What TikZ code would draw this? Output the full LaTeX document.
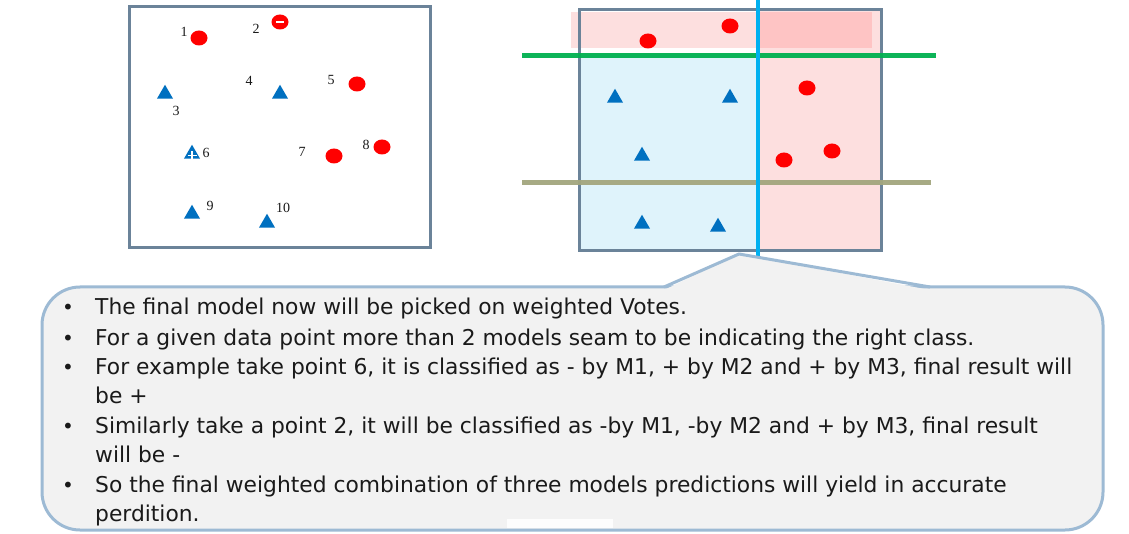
\documentclass[tikz,border=0pt]{standalone}
\usepackage{fontspec}
\setmainfont{DejaVu Sans}
\newfontfamily\numfont{Liberation Serif}
\usetikzlibrary{shapes.geometric}
\definecolor{boxgray}{HTML}{6B8399}
\definecolor{ptred}{HTML}{FF0000}
\definecolor{ptblue}{HTML}{0070C0}
\definecolor{regblue}{HTML}{DFF3FB}
\definecolor{regpink}{HTML}{FDDFDF}
\definecolor{bandpink}{HTML}{FEC4C4}
\definecolor{lgreen}{HTML}{00B050}
\definecolor{lolive}{HTML}{A3A67E}
\definecolor{lblue}{HTML}{00B0F0}
\definecolor{callfill}{HTML}{F2F2F2}
\definecolor{callline}{HTML}{9DBAD4}
\definecolor{txt}{HTML}{1A1A1A}
\begin{document}
\begin{tikzpicture}[x=1pt,y=-1pt,
  redpt/.style={ellipse, fill=ptred, inner sep=0pt, minimum width=17pt, minimum height=15pt},
  bluept/.style={regular polygon, regular polygon sides=3, fill=ptblue, inner sep=0pt, minimum size=18.5pt},
  numlbl/.style={font=\numfont\fontsize{14}{14}\selectfont, inner sep=0pt, text=txt},
  txtline/.style={font=\fontsize{21.8}{26}\selectfont, anchor=base west, inner sep=0pt, text=txt},
  bul/.style={font=\fontsize{20}{20}\selectfont, anchor=base, inner sep=0pt, text=txt},
  frame/.style={draw=boxgray, line width=3pt}
]
\useasboundingbox (0,0) rectangle (1129,534);
\fill[white] (0,0) rectangle (1129,534);

% ---------- left panel ----------
\draw[frame] (129,7) rectangle (430,248);
\node[redpt] (p1) at (199,38) {};
\node[redpt] (p2) at (280,22) {};
\draw[white, line width=2pt] ([xshift=-4pt]p2.center) -- ([xshift=4pt]p2.center);
\node[bluept] (p3) at (165,94) {};
\node[bluept] (p4) at (280,94) {};
\node[redpt] (p5) at (357,84) {};
\node[bluept] (p6) at (192,154) {};
\draw[white, line width=1.8pt] ([xshift=-4.5pt,yshift=-1.5pt]p6.center) -- ([xshift=4.5pt,yshift=-1.5pt]p6.center);
\draw[white, line width=1.8pt] ([yshift=2.5pt]p6.center) -- ([yshift=-6pt]p6.center);
\node[redpt] (p7) at (334,156) {};
\node[redpt] (p8) at (382,147) {};
\node[bluept] (p9) at (192,214) {};
\node[bluept] (p10) at (267,223) {};
\node[numlbl] (l1) at (184,32) {1};
\node[numlbl] (l2) at (256,29) {2};
\node[numlbl] (l3) at (176,111) {3};
\node[numlbl] (l4) at (249,81) {4};
\node[numlbl] (l5) at (331,80) {5};
\node[numlbl] (l6) at (206,153) {6};
\node[numlbl] (l7) at (302,152) {7};
\node[numlbl] (l8) at (366,145) {8};
\node[numlbl] (l9) at (210,206) {9};
\node[numlbl] (l10) at (283,208) {10};

% ---------- right panel ----------
\fill[regblue] (579,54) rectangle (758,251);
\fill[regpink] (758,10) rectangle (881,251);
\fill[regpink] (571,12) rectangle (758,48);
\fill[bandpink] (758,12) rectangle (872,48);
\draw[frame] (579,10) rectangle (881,251);
\draw[lgreen, line width=5pt, opacity=0.95] (522,56) -- (936,56);
\draw[lolive, line width=5pt, opacity=0.95] (522,183) -- (931,183);
\draw[lblue, line width=4pt] (758,0) -- (758,256);
\node[redpt] (q1) at (648,41) {};
\node[redpt] (q2) at (730,26) {};
\node[redpt] (q3) at (807,88) {};
\node[redpt] (q4) at (784,160) {};
\node[redpt] (q5) at (832,151) {};
\node[bluept] (r1) at (615,98) {};
\node[bluept] (r2) at (730,98) {};
\node[bluept] (r3) at (642,156) {};
\node[bluept] (r4) at (642,224) {};
\node[bluept] (r5) at (718,227) {};

% ---------- callout ----------
\node[draw=callline, fill=callfill, line width=3pt, rounded corners=38pt,
      minimum width=1061pt, minimum height=243pt, inner sep=0pt] (call) at (572.5,408.5) {};
\coordinate (tip) at (739,254);
\coordinate (ba) at (664,287);
\coordinate (bb) at (930,287);
\fill[callfill] ([yshift=-3pt]ba) -- (tip) -- ([yshift=-3pt]bb) -- cycle;
\draw[callline, line width=3pt, line join=round] (ba) -- (tip) -- (bb);
\fill[white, opacity=0.9] (507,519) rectangle (613,528);

\foreach \yy in {315,345,374,433,492} {\node[bul] at (68,\yy) {•};}
\node[txtline] (t1) at (95,315) {The final model now will be picked on weighted Votes.};
\node[txtline] (t2) at (95,345) {For a given data point more than 2 models seam to be indicating the right class.};
\node[txtline] (t3) at (95,374) {For example take point 6, it is classified as - by M1, + by M2 and + by M3, final result will};
\node[txtline] (t4) at (95,403) {be +};
\node[txtline] (t5) at (95,433) {Similarly take a point 2, it will be classified as -by M1, -by M2 and + by M3, final result};
\node[txtline] (t6) at (95,462) {will be -};
\node[txtline] (t7) at (95,492) {So the final weighted combination of three models predictions will yield in accurate};
\node[txtline] (t8) at (95,521) {perdition.};
\end{tikzpicture}
\end{document}
